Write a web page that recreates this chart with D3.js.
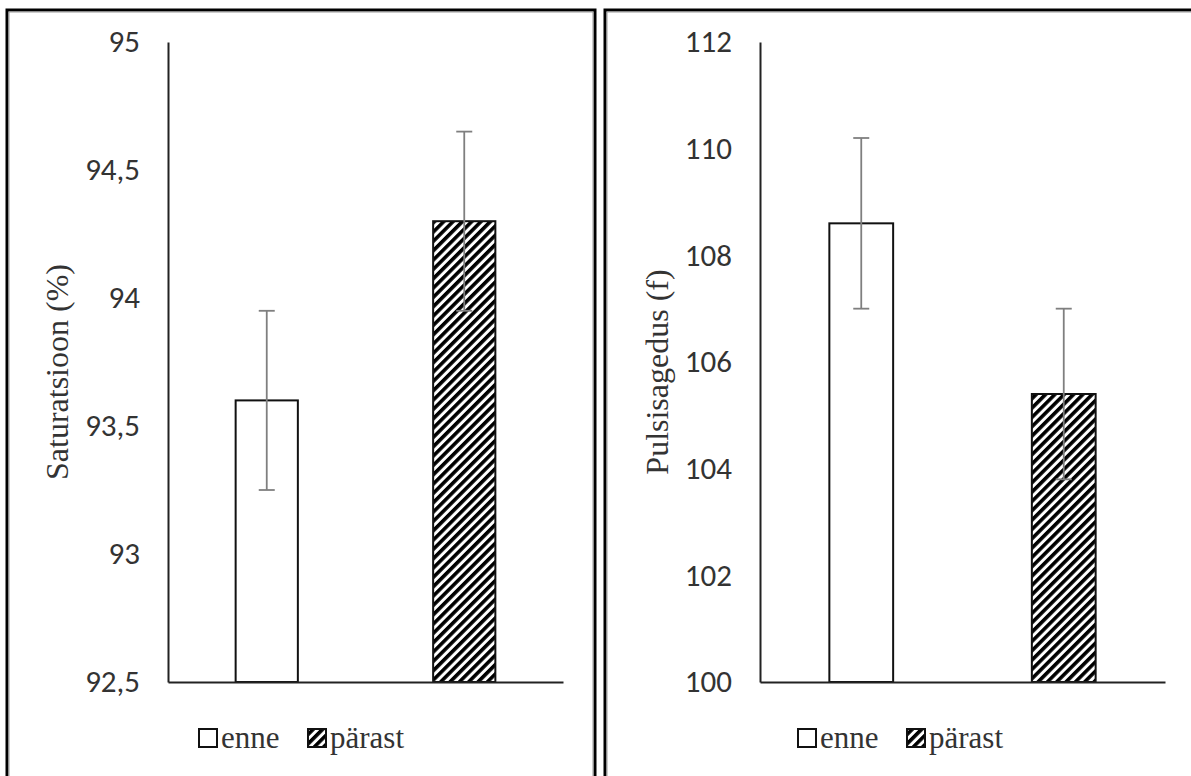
<!DOCTYPE html>
<html>
<head>
<meta charset="utf-8">
<script src="https://cdn.jsdelivr.net/npm/d3@7"></script>
<style>
  body { margin: 0; background: #fff; }
  svg { display: block; }
</style>
</head>
<body>
<svg id="chart" width="1191" height="776"></svg>
<script>
// data
const categories = ["enne", "pärast"];
const satValues = [93.6, 94.3];
const satErrors = [0.35, 0.35];
const satTicks = [92.5, 93, 93.5, 94, 94.5, 95];
const satTickLabels = ["92,5", "93", "93,5", "94", "94,5", "95"];
const pulseValues = [108.6, 105.4];
const pulseErrors = [1.6, 1.6];
const pulseTicks = [100, 102, 104, 106, 108, 110, 112];
const pulseTickLabels = ["100", "102", "104", "106", "108", "110", "112"];

const serif = "Liberation Serif";
const sans = "Carlito, 'Liberation Sans', Arial, sans-serif";

const svg = d3.select("#chart");

// hatch for "pärast"
const defs = svg.append("defs");
const pat = defs.append("pattern")
    .attr("id", "hatch")
    .attr("patternUnits", "userSpaceOnUse")
    .attr("width", 6.6).attr("height", 6.6)
    .attr("patternTransform", "rotate(45)");
pat.append("rect").attr("width", 6.6).attr("height", 6.6).attr("fill", "#fff");
pat.append("rect").attr("width", 3.6).attr("height", 6.6).attr("fill", "#000");

const fills = ["#fff", "url(#hatch)"];

const panels = [
    { box: [7, 10, 588, 800], axisX: 168, axisEnd: 563, title: "Saturatsioon (%)", titleX: 57,
      values: satValues, errors: satErrors, ticks: satTicks, labels: satTickLabels, legendX: 199 },
    { box: [605, 10, 620, 800], axisX: 760, axisEnd: 1165, title: "Pulsisagedus (f)", titleX: 657,
      values: pulseValues, errors: pulseErrors, ticks: pulseTicks, labels: pulseTickLabels, legendX: 798 }
];

const plotTop = 42, plotBottom = 682;

panels.forEach(p => {
    const g = svg.append("g");

    // panel frame
    g.append("rect")
        .attr("x", p.box[0]).attr("y", p.box[1]).attr("width", p.box[2]).attr("height", p.box[3])
        .attr("fill", "none").attr("stroke", "#000").attr("stroke-width", 3);
    g.append("rect")
        .attr("x", p.box[0] + 2).attr("y", p.box[1] + 2).attr("width", p.box[2] - 4).attr("height", p.box[3] - 4)
        .attr("fill", "none").attr("stroke", "#999").attr("stroke-width", 1);

    const y = d3.scaleLinear().domain([p.ticks[0], p.ticks[p.ticks.length - 1]]).range([plotBottom, plotTop]);
    const x = d3.scaleBand().domain(categories).range([p.axisX, p.axisEnd]).padding(0);
    const barW = x.bandwidth() * 0.315;

    // bars
    g.selectAll("rect.bar")
        .data(categories).enter().append("rect")
        .attr("class", "bar")
        .attr("x", d => x(d) + x.bandwidth() / 2 - barW / 2)
        .attr("y", (d, i) => y(p.values[i]))
        .attr("width", barW)
        .attr("height", (d, i) => plotBottom - y(p.values[i]))
        .attr("fill", (d, i) => fills[i])
        .attr("stroke", "#111").attr("stroke-width", 2);

    // error bars
    const eb = g.selectAll("g.err").data(categories).enter().append("g").attr("class", "err")
        .attr("stroke", "#7f7f7f").attr("stroke-width", 1.8);
    const cx = d => x(d) + x.bandwidth() / 2;
    eb.append("line")
        .attr("x1", cx).attr("x2", cx)
        .attr("y1", (d, i) => y(p.values[i] + p.errors[i]))
        .attr("y2", (d, i) => y(p.values[i] - p.errors[i]));
    [1, -1].forEach(s => {
        eb.append("line")
            .attr("x1", d => cx(d) - 8).attr("x2", d => cx(d) + 8)
            .attr("y1", (d, i) => y(p.values[i] + s * p.errors[i]))
            .attr("y2", (d, i) => y(p.values[i] + s * p.errors[i]));
    });

    // axes
    const yAxis = g.append("g").attr("transform", `translate(${p.axisX},0)`)
        .call(d3.axisLeft(y).tickValues(p.ticks).tickFormat((d, i) => p.labels[i])
            .tickSizeInner(0).tickSizeOuter(0).tickPadding(28));
    yAxis.select(".domain").attr("stroke", "#222").attr("stroke-width", 2);
    yAxis.selectAll("text").attr("fill", "#333")
        .style("font-size", "31px").style("font-family", sans);

    const xAxis = g.append("g").attr("transform", `translate(0,${plotBottom})`)
        .call(d3.axisBottom(x).tickSize(0).tickFormat(() => ""));
    xAxis.select(".domain").attr("stroke", "#222").attr("stroke-width", 2);

    // y title
    g.append("text")
        .attr("transform", `translate(${p.titleX},${(plotTop + plotBottom) / 2 + 10}) rotate(-90)`)
        .attr("text-anchor", "middle").attr("dominant-baseline", "central")
        .attr("fill", "#333")
        .attr("font-size", 32).attr("font-family", serif)
        .text(p.title);

    // legend
    const lg = g.append("g").attr("transform", `translate(${p.legendX},729)`);
    categories.forEach((c, i) => {
        const ox = i * 109;
        lg.append("rect").attr("x", ox).attr("y", 0).attr("width", 18).attr("height", 18)
            .attr("fill", fills[i]).attr("stroke", "#111").attr("stroke-width", 2);
        lg.append("text").attr("x", ox + 22).attr("y", 19)
            .attr("fill", "#333")
            .attr("font-size", 31).attr("font-family", serif)
            .text(c);
    });
});
</script>
</body>
</html>
